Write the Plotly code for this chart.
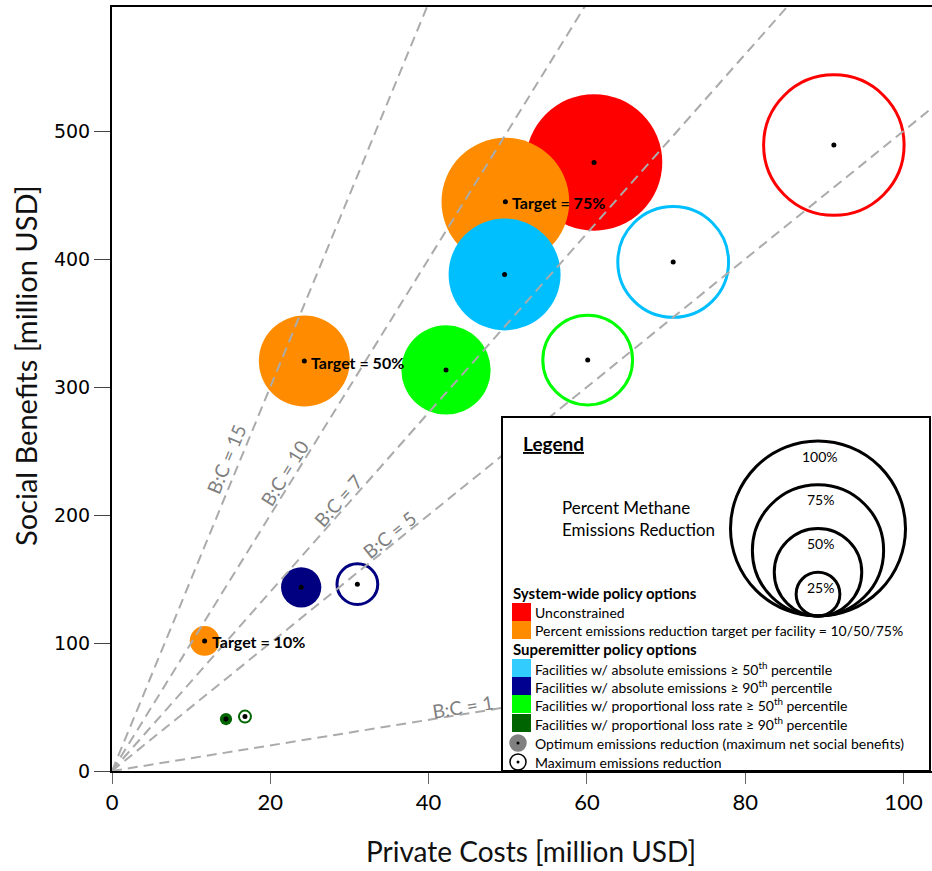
import math
import plotly.graph_objects as go

# ---- data: private costs / social benefits in million USD, reduction in % of methane emissions ----
policies = ["Unconstrained",
            "Absolute emissions >= 50th pct",
            "Absolute emissions >= 90th pct",
            "Proportional loss rate >= 50th pct",
            "Proportional loss rate >= 90th pct"]
policy_colors = ["#FF0000", "#00BFFF", "#000080", "#00FF00", "#006400"]

# optimum emissions reduction (maximum net social benefits)
opt_cost = [60.9, 49.6, 23.9, 42.2, 14.4]
opt_benefit = [475.5, 388.0, 143.5, 313.3, 40.6]
opt_reduction = [78, 64, 23, 51, 7]

# maximum emissions reduction
max_cost = [91.2, 70.9, 31.0, 60.1, 16.8]
max_benefit = [489.0, 397.7, 146.0, 321.1, 42.5]
max_reduction = [82, 65, 25, 53, 8]

# percent emissions reduction target per facility
target_labels = ["Target = 10%", "Target = 50%", "Target = 75%"]
target_cost = [11.7, 24.3, 49.7]
target_benefit = [101.6, 320.3, 444.8]
target_reduction = [17, 52, 73]
target_color = "#FF8C00"

# benefit-to-cost reference lines
bc_ratios = [1, 5, 7, 10, 15]
bc_label_x = [44.5, 35.8, 29.5, 22.9, 16.0]   # where each label sits along its line
bc_label_gap = [8, 9, 10, 10, 13]             # px offset from the line

legend_pcts = [100, 75, 50, 25]

x_ticks = [0, 20, 40, 60, 80, 100]
y_ticks = [0, 100, 200, 300, 400, 500]

# ---- geometry ----
W, H = 932, 871
ML, MR, MT, MB = 112, 0, 7, 100
PW, PH = W - ML - MR, H - MT - MB
X_MAX = 103.6
Y_MAX = 596.9
PX_PER_X = PW / X_MAX
PX_PER_Y = PH / Y_MAX
DIAM_PER_PCT = 1.75     # bubble diameter (px) per percent reduction
RING = 3

FONT = "Lato"


def paper_x(px):
    return (px - ML) / PW


def paper_y(py):
    return (H - MB - py) / PH


fig = go.Figure()


def filled(xs, ys, pcts, color):
    fig.add_trace(go.Scatter(
        x=xs, y=ys, mode="markers", showlegend=False, hoverinfo="skip",
        marker=dict(size=[p * DIAM_PER_PCT for p in pcts], color=color,
                    line=dict(width=0), opacity=1)))


def ring(xs, ys, pcts, color):
    lw = RING if min(pcts) > 10 else 2
    fig.add_trace(go.Scatter(
        x=xs, y=ys, mode="markers", showlegend=False, hoverinfo="skip",
        marker=dict(symbol="circle-open", size=[max(p * DIAM_PER_PCT - lw, 4) for p in pcts],
                    color=color, opacity=1, line=dict(width=lw, color=color))))


# filled bubbles (unconstrained underneath the targets, superemitter options on top)
filled([opt_cost[0]], [opt_benefit[0]], [opt_reduction[0]], policy_colors[0])
for c, b, p in zip(target_cost, target_benefit, target_reduction):
    filled([c], [b], [p], target_color)
for i in range(1, len(policies)):
    filled([opt_cost[i]], [opt_benefit[i]], [opt_reduction[i]], policy_colors[i])

# open rings for the maximum-reduction variants
for i in range(len(policies)):
    ring([max_cost[i]], [max_benefit[i]], [max_reduction[i]], policy_colors[i])

# centre dots
fig.add_trace(go.Scatter(
    x=opt_cost + max_cost + target_cost,
    y=opt_benefit + max_benefit + target_benefit,
    mode="markers", showlegend=False, hoverinfo="skip",
    marker=dict(size=5, color="black")))

# B:C reference lines
for r in bc_ratios:
    fig.add_trace(go.Scatter(
        x=[0, X_MAX], y=[0, r * X_MAX], mode="lines", showlegend=False, hoverinfo="skip",
        line=dict(color="#ABABAB", width=2, dash="10px,6px")))

annotations = []

for r, lx, gap in zip(bc_ratios, bc_label_x, bc_label_gap):
    theta = math.atan(r * PX_PER_Y / PX_PER_X)
    annotations.append(dict(
        x=lx, y=r * lx, xref="x", yref="y", text=f"B:C = {r}", showarrow=False,
        textangle=-math.degrees(theta), xanchor="center", yanchor="middle",
        xshift=-gap * math.sin(theta), yshift=gap * math.cos(theta),
        font=dict(family=FONT, size=19, color="#7F7F7F")))

for lab, c, b in zip(target_labels, target_cost, target_benefit):
    annotations.append(dict(
        x=c, y=b, xref="x", yref="y", text=f"<b>{lab}</b>", showarrow=False,
        xanchor="left", yanchor="middle", xshift=5, yshift=-1,
        font=dict(family=FONT, size=16, color="black")))

# axis titles
annotations.append(dict(x=paper_x(531), y=paper_y(851), xref="paper", yref="paper",
                        text="Private Costs [million USD]", showarrow=False,
                        xanchor="center", yanchor="middle",
                        font=dict(family=FONT, size=28, color="#111")))
annotations.append(dict(x=paper_x(25), y=paper_y(366), xref="paper", yref="paper",
                        text="Social Benefits [million USD]", showarrow=False, textangle=-90,
                        xanchor="center", yanchor="middle",
                        font=dict(family=FONT, size=29, color="#111")))

# ---- legend panel ----
shapes = []
BOX = (502, 417, 930, 771)
shapes.append(dict(type="rect", xref="paper", yref="paper",
                   x0=paper_x(BOX[0]), x1=paper_x(BOX[2]),
                   y0=paper_y(BOX[3]), y1=paper_y(BOX[1]),
                   fillcolor="white", line=dict(color="black", width=2), layer="above"))


def txt(px, py, text, size=14, bold=False, anchor="left"):
    annotations.append(dict(x=paper_x(px), y=paper_y(py), xref="paper", yref="paper",
                            text=f"<b>{text}</b>" if bold else text, showarrow=False,
                            xanchor=anchor, yanchor="middle",
                            font=dict(family=FONT, size=size, color="black")))


txt(521, 443, "<u>Legend</u>", size=19, bold=True)
txt(560, 507, "Percent Methane", size=17)
txt(560, 529, "Emissions Reduction", size=17)

# nested size-key circles, tangent at the bottom
CX, CB = 818, 616
for p in legend_pcts:
    r = p * DIAM_PER_PCT / 2
    shapes.append(dict(type="circle", xref="paper", yref="paper",
                       x0=paper_x(CX - r), x1=paper_x(CX + r),
                       y0=paper_y(CB), y1=paper_y(CB - 2 * r),
                       line=dict(color="black", width=3), layer="above"))
    txt(CX + 2, CB - 2 * r + 15, f"{p}%", size=14, anchor="center")

txt(511, 593, "System-wide policy options", size=15, bold=True)
txt(511, 649, "Superemitter policy options", size=15, bold=True)

rows = [
    (603, "#FF0000", "Unconstrained"),
    (621, target_color, "Percent emissions reduction target per facility = 10/50/75%"),
    (659, "#33CCFF", "Facilities w/ absolute emissions ≥ 50<sup>th</sup> percentile"),
    (677, "#000090", "Facilities w/ absolute emissions ≥ 90<sup>th</sup> percentile"),
    (695, "#00FF00", "Facilities w/ proportional loss rate ≥ 50<sup>th</sup> percentile"),
    (714, "#006400", "Facilities w/ proportional loss rate ≥ 90<sup>th</sup> percentile"),
]
for top, col, label in rows:
    shapes.append(dict(type="rect", xref="paper", yref="paper",
                       x0=paper_x(512), x1=paper_x(531), y0=paper_y(top + 18), y1=paper_y(top),
                       fillcolor=col, line=dict(width=0), layer="above"))
    txt(533, top + 9, label, size=14)

# marker-type keys
for cy, fill, label in [(743, "#808080", "Optimum emissions reduction (maximum net social benefits)"),
                        (762, "white", "Maximum emissions reduction")]:
    shapes.append(dict(type="circle", xref="paper", yref="paper",
                       x0=paper_x(510), x1=paper_x(526), y0=paper_y(cy + 8), y1=paper_y(cy - 8),
                       fillcolor=fill, line=dict(color="#808080" if fill != "white" else "black", width=1.5),
                       layer="above"))
    shapes.append(dict(type="circle", xref="paper", yref="paper",
                       x0=paper_x(516.5), x1=paper_x(519.5), y0=paper_y(cy + 1.5), y1=paper_y(cy - 1.5),
                       fillcolor="black", line=dict(width=0), layer="above"))
    txt(533, cy, label, size=14)

fig.update_layout(
    width=W, height=H,
    margin=dict(l=ML, r=MR, t=MT, b=MB, pad=0),
    paper_bgcolor="white", plot_bgcolor="white",
    shapes=shapes, annotations=annotations,
    xaxis=dict(range=[0, X_MAX], tickvals=x_ticks, showgrid=False, zeroline=False,
               showline=True, linecolor="black", linewidth=2, mirror=True,
               ticks="outside", ticklen=11, tickwidth=1, tickcolor="#666",
               tickfont=dict(family=FONT, size=22, color="black")),
    yaxis=dict(range=[0, Y_MAX], tickvals=y_ticks, showgrid=False, zeroline=False,
               showline=True, linecolor="black", linewidth=2,
               ticks="outside", ticklen=16, tickwidth=1, tickcolor="#444",
               tickfont=dict(family="DejaVu Sans", size=19, color="black")),
)

fig.write_html("out.html")
